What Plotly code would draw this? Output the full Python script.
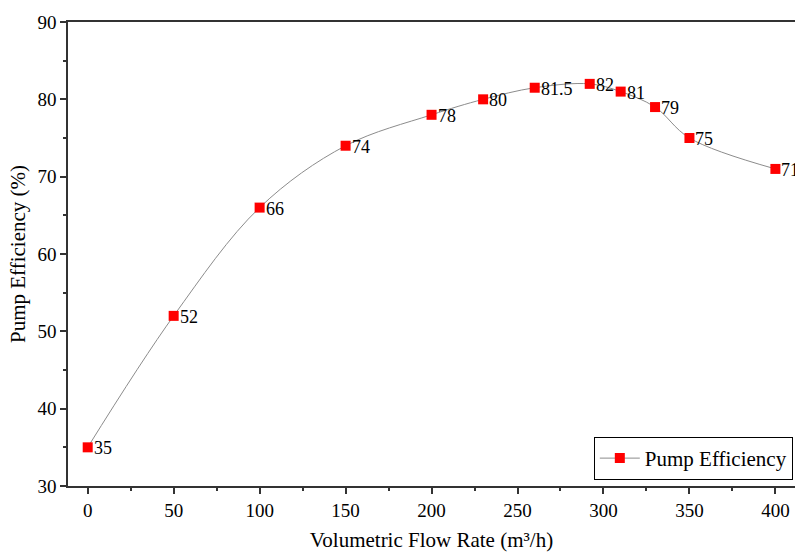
import plotly.graph_objects as go

flow = [0, 50, 100, 150, 200, 230, 260, 292, 310, 330, 350, 400]
efficiency = [35, 52, 66, 74, 78, 80, 81.5, 82, 81, 79, 75, 71]
labels = ["35", "52", "66", "74", "78", "80", "81.5", "82", "81", "79", "75", "71"]

font_family = "Liberation Serif, Times New Roman, serif"

fig = go.Figure()
fig.add_trace(go.Scatter(
    x=flow, y=efficiency, mode="lines+markers", name="Pump Efficiency",
    line=dict(color="#8c8c8c", width=1, shape="spline", smoothing=1),
    marker=dict(symbol="square", color="#ff0000", size=10),
))

for xv, yv, lab in zip(flow, efficiency, labels):
    fig.add_annotation(x=xv, y=yv, text=lab, showarrow=False, xanchor="left", yanchor="middle",
                       xshift=4, yshift=-1,
                       font=dict(family=font_family, size=18, color="#000000"))

axis_common = dict(
    showline=True, linecolor="#333333", linewidth=1.5,
    ticks="outside", ticklen=6, tickcolor="#333333", tickwidth=1.5,
    showgrid=False, zeroline=False,
    tickfont=dict(family=font_family, size=19, color="#000000"),
    minor=dict(ticks="outside", ticklen=3, tickcolor="#333333", tickwidth=1.5, showgrid=False),
)

fig.update_layout(
    width=795, height=552,
    margin=dict(l=68, r=0, t=22, b=66),
    paper_bgcolor="white", plot_bgcolor="white",
    xaxis=dict(range=[-11.46, 411.4], tickvals=[0, 50, 100, 150, 200, 250, 300, 350, 400], mirror=True,
               title=dict(text="Volumetric Flow Rate (m³/h)", font=dict(family=font_family, size=21, color="#000000"), standoff=14),
               **axis_common),
    yaxis=dict(range=[30, 90], tickvals=[30, 40, 50, 60, 70, 80, 90], mirror=False,
               title=dict(text="Pump Efficiency (%)", font=dict(family=font_family, size=21, color="#000000"), standoff=6),
               **axis_common),
    legend=dict(x=0.997, y=0.013, xanchor="right", yanchor="bottom",
                bordercolor="#000000", borderwidth=1, bgcolor="white",
                font=dict(family=font_family, size=21, color="#000000"),
                itemwidth=40, tracegroupgap=0),
    showlegend=True,
)
fig.update_xaxes(minor=dict(dtick=25, tick0=0))
fig.update_yaxes(minor=dict(dtick=5, tick0=0))

fig.write_html("out.html")
